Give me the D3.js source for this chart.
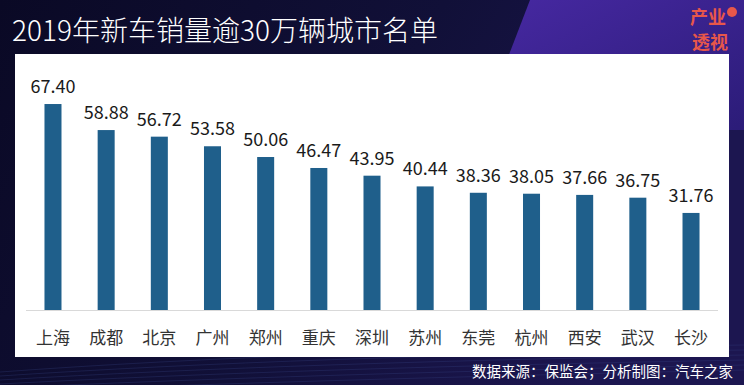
<!DOCTYPE html>
<html><head><meta charset="utf-8">
<script src="https://cdn.jsdelivr.net/npm/d3@7"></script>
<style>
html,body{margin:0;padding:0;background:#0c0a2a;}
svg{display:block;}
text{font-family:"Noto Sans CJK SC","Noto Sans",sans-serif;}
</style></head>
<body>
<script>
const cities = ["上海","成都","北京","广州","郑州","重庆","深圳","苏州","东莞","杭州","西安","武汉","长沙"];
const sales = [67.40,58.88,56.72,53.58,50.06,46.47,43.95,40.44,38.36,38.05,37.66,36.75,31.76];
const title = "2019年新车销量逾30万辆城市名单";
const source = "数据来源：保监会；分析制图：汽车之家";

const W = 744, H = 385;
const svg = d3.select("body").append("svg").attr("width", W).attr("height", H);
const defs = svg.append("defs");
const bg = defs.append("linearGradient").attr("id","bg").attr("x1","0").attr("y1","0").attr("x2","1").attr("y2","0.3");
bg.append("stop").attr("offset","0").attr("stop-color","#0a0925");
bg.append("stop").attr("offset","0.55").attr("stop-color","#111038");
bg.append("stop").attr("offset","1").attr("stop-color","#1c1650");
svg.append("rect").attr("width",W).attr("height",H).attr("fill","url(#bg)");
const pg = defs.append("linearGradient").attr("id","pg").attr("x1","0").attr("y1","0").attr("x2","1").attr("y2","1");
pg.append("stop").attr("offset","0").attr("stop-color","#4a2aa8");
pg.append("stop").attr("offset","1").attr("stop-color","#2c1c7a");
svg.append("path").attr("d","M530,0 L744,0 L744,130 L480,130 Z").attr("fill","url(#pg)").attr("opacity",0.95);

// faint streaks at bottom
const streaks = [0,1,2,3,4,5];
svg.selectAll("path.streak").data(streaks).enter().append("path")
  .attr("class","streak")
  .attr("d", d => `M0,${372+d*4} Q300,${350+d*6} 744,${345+d*5}`)
  .attr("stroke","#3a4a8a").attr("stroke-opacity",0.35).attr("fill","none").attr("stroke-width",0.8);

// white panel
svg.append("rect").attr("x",15).attr("y",54).attr("width",714).attr("height",303).attr("fill","#ffffff");

// title
svg.append("text").attr("x",12).attr("y",41).attr("fill","#ffffff")
  .attr("font-size",28).attr("font-weight",300).text(title);

// logo
const logo = svg.append("g").attr("fill","#e8574a").attr("font-weight",700);
logo.append("text").attr("x",690).attr("y",24).attr("font-size",18).text("产业");
logo.append("text").attr("x",692).attr("y",49).attr("font-size",18).text("透视");
logo.append("circle").attr("cx",732).attr("cy",12).attr("r",5).attr("fill","#e8574a");

// scales
const x = d3.scaleBand().domain(cities).range([26.4,717.6]).paddingInner(0.68).paddingOuter(0.34);
const y = d3.scaleLinear().domain([0,70]).range([310,310-70*3.056]);

svg.append("line").attr("x1",26).attr("x2",718).attr("y1",310.5).attr("y2",310.5)
  .attr("stroke","#d9d9d9").attr("stroke-width",1);

svg.selectAll("rect.bar").data(sales).enter().append("rect").attr("class","bar")
  .attr("x",(d,i)=>x(cities[i])).attr("width",x.bandwidth())
  .attr("y",d=>y(d)).attr("height",d=>y(0)-y(d)).attr("fill","#1f5f8b");

svg.selectAll("text.val").data(sales).enter().append("text").attr("class","val")
  .attr("x",(d,i)=>x(cities[i])+x.bandwidth()/2).attr("y",d=>y(d)-11)
  .attr("text-anchor","middle").attr("font-size",18).attr("fill","#1a1a1a")
  .text(d=>d.toFixed(2));

const xAxis = svg.append("g").attr("transform","translate(0,310)")
  .call(d3.axisBottom(x).tickSize(0).tickPadding(0));
xAxis.select(".domain").remove();
xAxis.selectAll("text").attr("y",22).attr("font-size",17).attr("fill","#333333")
  .attr("font-family","'Noto Sans CJK SC',sans-serif");

svg.append("text").attr("x",733).attr("y",377).attr("text-anchor","end")
  .attr("fill","#ffffff").attr("font-size",14.5).text(source);
</script>
</body></html>
